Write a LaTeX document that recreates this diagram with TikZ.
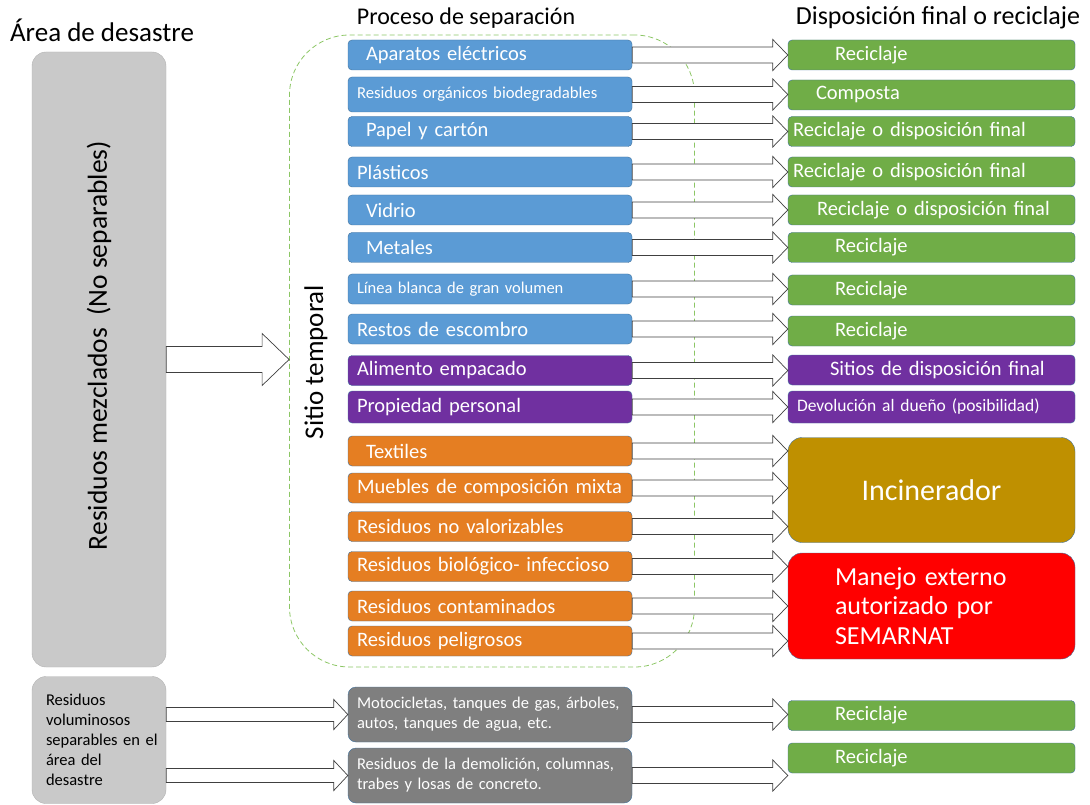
\documentclass[tikz,border=0pt]{standalone}
\usepackage{fontspec}
\setmainfont{Carlito}
\usepackage{tikz}
\usetikzlibrary{calc}
\definecolor{cBlue}{HTML}{5B9BD5}
\definecolor{cLine}{HTML}{41719C}
\definecolor{cPurple}{HTML}{7030A0}
\definecolor{cOrange}{HTML}{E57E22}
\definecolor{cGreen}{HTML}{70AD47}
\definecolor{cOchre}{HTML}{BF9000}
\definecolor{cRed}{HTML}{FF0000}
\definecolor{cGray}{HTML}{C9C9C9}
\definecolor{cDark}{HTML}{7F7F7F}
\definecolor{cSite}{HTML}{8CC665}
\tikzset{
  sep/.style={rectangle, rounded corners=4pt, draw=cLine, fill=#1, text=white, minimum width=284pt, minimum height=30pt, inner sep=0pt, align=left, text width=266pt, font=\fontsize{20.5}{24}\selectfont},
  fin/.style={rectangle, rounded corners=4pt, draw=cLine, fill=#1, text=white, minimum width=287pt, minimum height=30pt, inner sep=0pt, align=left, text width=193pt, font=\fontsize{20.5}{24}\selectfont},
  area/.style={rectangle, rounded corners=14pt, draw=black!30, fill=cGray, inner sep=0pt},
  head/.style={inner sep=0pt, font=\fontsize{24}{28}\selectfont},
  barrow/.style n args={3}{draw=black!75, fill=white, line width=0.7pt, to path={let \p1=(\tikztostart), \p2=(\tikztotarget) in
    (\x1,\y1+#1) -- (\x2-#3,\y1+#1) -- (\x2-#3,\y1+#2) -- (\x2,\y1) -- (\x2-#3,\y1-#2) -- (\x2-#3,\y1-#1) -- (\x1,\y1-#1) -- cycle}},
  arr/.style={barrow={8pt}{15.5pt}{15pt}},
  small/.style={font=\fontsize{16.5}{20}\selectfont},
}
\begin{document}
\begin{tikzpicture}[x=1pt, y=-1pt]
  \useasboundingbox (0,0) rectangle (1090,805);
  % headers
  \node[head, font=\fontsize{27}{30}\selectfont] (h1) at (102,30) {Área de desastre};
  \node[head] (h2) at (466,18) {Proceso de separación};
  \node[head, font=\fontsize{26}{30}\selectfont] (h3) at (938,18) {Disposición final o reciclaje};

  % temporary site
  \node[rectangle, rounded corners=60pt, draw=cSite, dash pattern=on 5pt off 3pt, line width=0.8pt, minimum width=405pt, minimum height=632pt] (site) at (492,351) {};
  \node[rotate=90, inner sep=0pt, font=\fontsize{27}{30}\selectfont] (tmp) at (316,362) {Sitio temporal};

  % disaster area
  \node[area, minimum width=134pt, minimum height=615pt, font=\fontsize{27.5}{32}\selectfont] (mixed) at (99,359.5) {\rotatebox{90}{\hspace*{28pt}Residuos mezclados\ \ (No separables)}};
  \node[area, minimum width=134pt, minimum height=127pt, small, text width=106pt, align=left] (bulk) at (99,740) {Residuos\\voluminosos\\\mbox{separables en el}\\área del\\desastre};

  % separation
  \node[sep=cBlue, text width=248pt] (s1) at (490,55) {Aparatos eléctricos};
  \node[sep=cBlue, minimum height=35pt, font=\fontsize{16.7}{20}\selectfont] (s2) at (490,94.5) {Residuos orgánicos biodegradables};
  \node[sep=cBlue, text width=248pt] (s3) at (490,131.5) {Papel y cartón};
  \node[sep=cBlue] (s4) at (490,172) {Plásticos};
  \node[sep=cBlue, text width=248pt] (s5) at (490,210) {Vidrio};
  \node[sep=cBlue, text width=248pt] (s6) at (490,247.5) {Metales};
  \node[sep=cBlue, font=\fontsize{16.5}{20}\selectfont] (s7) at (490,289) {Línea blanca de gran volumen};
  \node[sep=cBlue] (s8) at (490,329) {Restos de escombro};
  \node[sep=cPurple] (s9) at (490,370.5) {Alimento empacado};
  \node[sep=cPurple, minimum height=32pt] (s10) at (490,407) {Propiedad personal};
  \node[sep=cOrange, text width=248pt] (s11) at (490,451) {Textiles};
  \node[sep=cOrange] (s12) at (490,488) {Muebles de composición mixta};
  \node[sep=cOrange] (s13) at (490,526.5) {Residuos no valorizables};
  \node[sep=cOrange] (s14) at (490,566.5) {Residuos biológico- infeccioso};
  \node[sep=cOrange] (s15) at (490,606) {Residuos contaminados};
  \node[sep=cOrange] (s16) at (490,641) {Residuos peligrosos};
  \node[sep=cDark, minimum height=55pt, rounded corners=8pt, small] (s17) at (490,714.5) {Motocicletas, tanques de gas, árboles,\\autos, tanques de agua, etc.};
  \node[sep=cDark, minimum height=55pt, rounded corners=8pt, small] (s18) at (490,775.5) {Residuos de la demolición, columnas,\\trabes y losas de concreto.};

  % final disposal
  \node[fin=cGreen] (f1) at (931.5,55) {Reciclaje};
  \node[fin=cGreen, text width=231pt] (f2) at (931.5,95) {Composta};
  \node[fin=cGreen, text width=277pt] (f3) at (931.5,131.5) {Reciclaje o disposición final};
  \node[fin=cGreen, text width=277pt] (f4) at (931.5,172) {Reciclaje o disposición final};
  \node[fin=cGreen, text width=229pt] (f5) at (931.5,210) {\mbox{Reciclaje o disposición final}};
  \node[fin=cGreen] (f6) at (931.5,247.5) {Reciclaje};
  \node[fin=cGreen] (f7) at (931.5,290) {Reciclaje};
  \node[fin=cGreen] (f8) at (931.5,331) {Reciclaje};
  \node[fin=cPurple, text width=203pt] (f9) at (931.5,370) {\mbox{Sitios de disposición final}};
  \node[fin=cPurple, minimum height=32pt, text width=269pt, font=\fontsize{17.5}{20}\selectfont] (f10) at (931.5,407) {Devolución al dueño (posibilidad)};
  \node[fin=cOchre, minimum height=105pt, rounded corners=14pt, align=center, font=\fontsize{30}{34}\selectfont] (inc) at (931.5,490) {Incinerador};
  \node[fin=cRed, minimum height=106pt, rounded corners=14pt, font=\fontsize{26}{29.5}\selectfont] (sem) at (931.5,606) {Manejo externo\\autorizado por\\SEMARNAT};
  \node[fin=cGreen] (f17) at (931.5,715.5) {Reciclaje};
  \node[fin=cGreen] (f18) at (931.5,758) {Reciclaje};

  % block arrows
  \draw[barrow={13pt}{26pt}{27pt}] (mixed.east) to (site.west);
  \draw[barrow={7pt}{15pt}{14pt}] (bulk.east |- s17.west) to (s17.west);
  \draw[barrow={7pt}{15pt}{14pt}] (bulk.east |- s18.west) to (s18.west);
  \foreach \i in {1,...,10}
    \draw[arr] (s\i.east) to (f\i.west);
  \foreach \i in {11,12,13}
    \draw[arr] (s\i.east) to (inc.west);
  \foreach \i in {14,15,16}
    \draw[arr] (s\i.east) to (sem.west);
  \draw[arr] (s17.east) to (f17.west);
  \draw[arr] (s18.east) to (f18.west);
\end{tikzpicture}
\end{document}
